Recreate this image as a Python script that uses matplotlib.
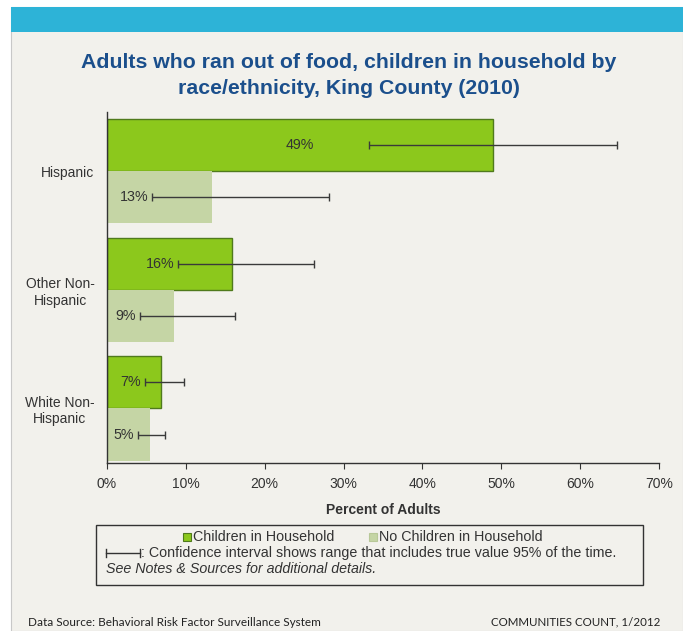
import matplotlib.pyplot as plt
import numpy as np
from matplotlib.patches import Rectangle
from matplotlib.lines import Line2D

plt.rcParams['font.family'] = ['Liberation Sans', 'DejaVu Sans']

# data
groups = ["Hispanic", "Other Non-\nHispanic", "White Non-\nHispanic"]
kids = [48.9, 15.8, 6.8]
kids_lo = [33.2, 9.0, 4.8]
kids_hi = [64.7, 26.2, 9.8]
nokids = [13.3, 8.5, 5.4]
nokids_lo = [5.7, 4.2, 3.9]
nokids_hi = [28.2, 16.2, 7.3]
kids_lbl = ["49%", "16%", "7%"]
nokids_lbl = ["13%", "9%", "5%"]

W, H = 683, 631
BG = '#F2F1EC'
GREEN = '#8CC81C'
GREEN_EDGE = '#4F7A1C'
SAGE = '#C5D5A5'
TXT = '#333333'


def fx(px):
    return px / W


def fy(py):
    return 1 - py / H


fig = plt.figure(figsize=(W / 100, H / 100), dpi=100, facecolor='white')

# panel and banner (behind the axes)
fig.patches.append(Rectangle((fx(11), 0), 1 - fx(11), fy(7), transform=fig.transFigure,
                             facecolor=BG, edgecolor='#C8C8C8', lw=0.8, zorder=-2))
fig.patches.append(Rectangle((fx(11), fy(32)), 1 - fx(11), fy(7) - fy(32), transform=fig.transFigure,
                             facecolor='#2DB3D7', edgecolor='none', zorder=-1))

fig.text(fx(349), fy(63), "Adults who ran out of food, children in household by",
         ha='center', va='center', fontsize=15.3, fontweight='bold', color='#1B4F8C')
fig.text(fx(349), fy(89), "race/ethnicity, King County (2010)",
         ha='center', va='center', fontsize=15.3, fontweight='bold', color='#1B4F8C')

ax = fig.add_axes([fx(107), fy(463), fx(659) - fx(107), fy(112) - fy(463)])
ax.set_facecolor(BG)

y = np.arange(len(groups))
off, h = 0.22, 0.44
ax.barh(y - off, kids, height=h, color=GREEN, edgecolor=GREEN_EDGE, lw=1, zorder=2)
ax.barh(y + off, nokids, height=h, color=SAGE, edgecolor='none', zorder=2)

ekw = dict(fmt='none', ecolor='#3A3A3A', elinewidth=1, capsize=3, capthick=1, zorder=4)
k = np.array(kids)
nk = np.array(nokids)
ax.errorbar(k, y - off, xerr=[k - np.array(kids_lo), np.array(kids_hi) - k], **ekw)
ax.errorbar(nk, y + off, xerr=[nk - np.array(nokids_lo), np.array(nokids_hi) - nk], **ekw)


def put_label(val, lo, yy, s):
    # centred in the bar unless it would run into the interval line
    half_w = 2.1
    if val / 2 + half_w < lo - 0.5:
        ax.text(val / 2, yy, s, ha='center', va='center', fontsize=10.3, color=TXT, zorder=5)
    else:
        ax.text(lo - 0.5, yy, s, ha='right', va='center', fontsize=10.3, color=TXT, zorder=5)


for i in range(len(groups)):
    put_label(kids[i], kids_lo[i], y[i] - off, kids_lbl[i])
    put_label(nokids[i], nokids_lo[i], y[i] + off, nokids_lbl[i])

ax.set_xlim(0, 70)
ax.set_ylim(2.46, -0.50)
ax.set_xticks(np.arange(0, 71, 10))
ax.set_xticklabels(["%d%%" % v for v in range(0, 71, 10)])
ax.set_yticks(y)
ax.set_yticklabels(groups, multialignment='center')
ax.tick_params(axis='y', length=0, pad=9, labelsize=10, labelcolor=TXT)
ax.tick_params(axis='x', length=4, direction='out', pad=6, labelsize=10, labelcolor=TXT, color='#333333')
for s in ['top', 'right']:
    ax.spines[s].set_visible(False)
for s in ['left', 'bottom']:
    ax.spines[s].set_color('#333333')
    ax.spines[s].set_linewidth(1)
ax.set_xlabel("Percent of Adults", fontsize=10, fontweight='bold', color=TXT, labelpad=9)

# legend box
fig.patches.append(Rectangle((fx(96), fy(585)), fx(643) - fx(96), fy(525) - fy(585), transform=fig.transFigure,
                             facecolor=BG, edgecolor='#333333', lw=1, zorder=2))
fig.patches.append(Rectangle((fx(183), fy(541)), fx(8), fy(0) - fy(8), transform=fig.transFigure,
                             facecolor=GREEN, edgecolor=GREEN_EDGE, lw=0.8, zorder=3))
fig.text(fx(193), fy(537), "Children in Household", ha='left', va='center', fontsize=10.3, color=TXT)
fig.patches.append(Rectangle((fx(369), fy(541)), fx(8), fy(0) - fy(8), transform=fig.transFigure,
                             facecolor=SAGE, edgecolor='#B8C898', lw=0.8, zorder=3))
fig.text(fx(379), fy(537), "No Children in Household", ha='left', va='center', fontsize=10.3, color=TXT)

fig.lines.append(Line2D([fx(106), fx(140)], [fy(553), fy(553)], transform=fig.transFigure,
                        color='#333333', lw=1, zorder=4))
for xx in (106, 140):
    fig.lines.append(Line2D([fx(xx), fx(xx)], [fy(549), fy(557)], transform=fig.transFigure,
                            color='#333333', lw=1, zorder=4))
fig.text(fx(141), fy(553), ": Confidence interval shows range that includes true value 95% of the time.",
         ha='left', va='center', fontsize=10.3, color=TXT)
fig.text(fx(106), fy(569), "See Notes & Sources for additional details.",
         ha='left', va='center', fontsize=10.3, color=TXT, style='italic')

fig.text(fx(28), fy(622), "Data Source: Behavioral Risk Factor Surveillance System",
         ha='left', va='center', fontsize=8.5, color='#222222', family=['Lato', 'DejaVu Sans'])
fig.text(fx(660), fy(622), "COMMUNITIES COUNT, 1/2012",
         ha='right', va='center', fontsize=8.3, color='#222222', family=['Lato', 'DejaVu Sans'])

fig.savefig("out.png", dpi=100, facecolor=fig.get_facecolor())
